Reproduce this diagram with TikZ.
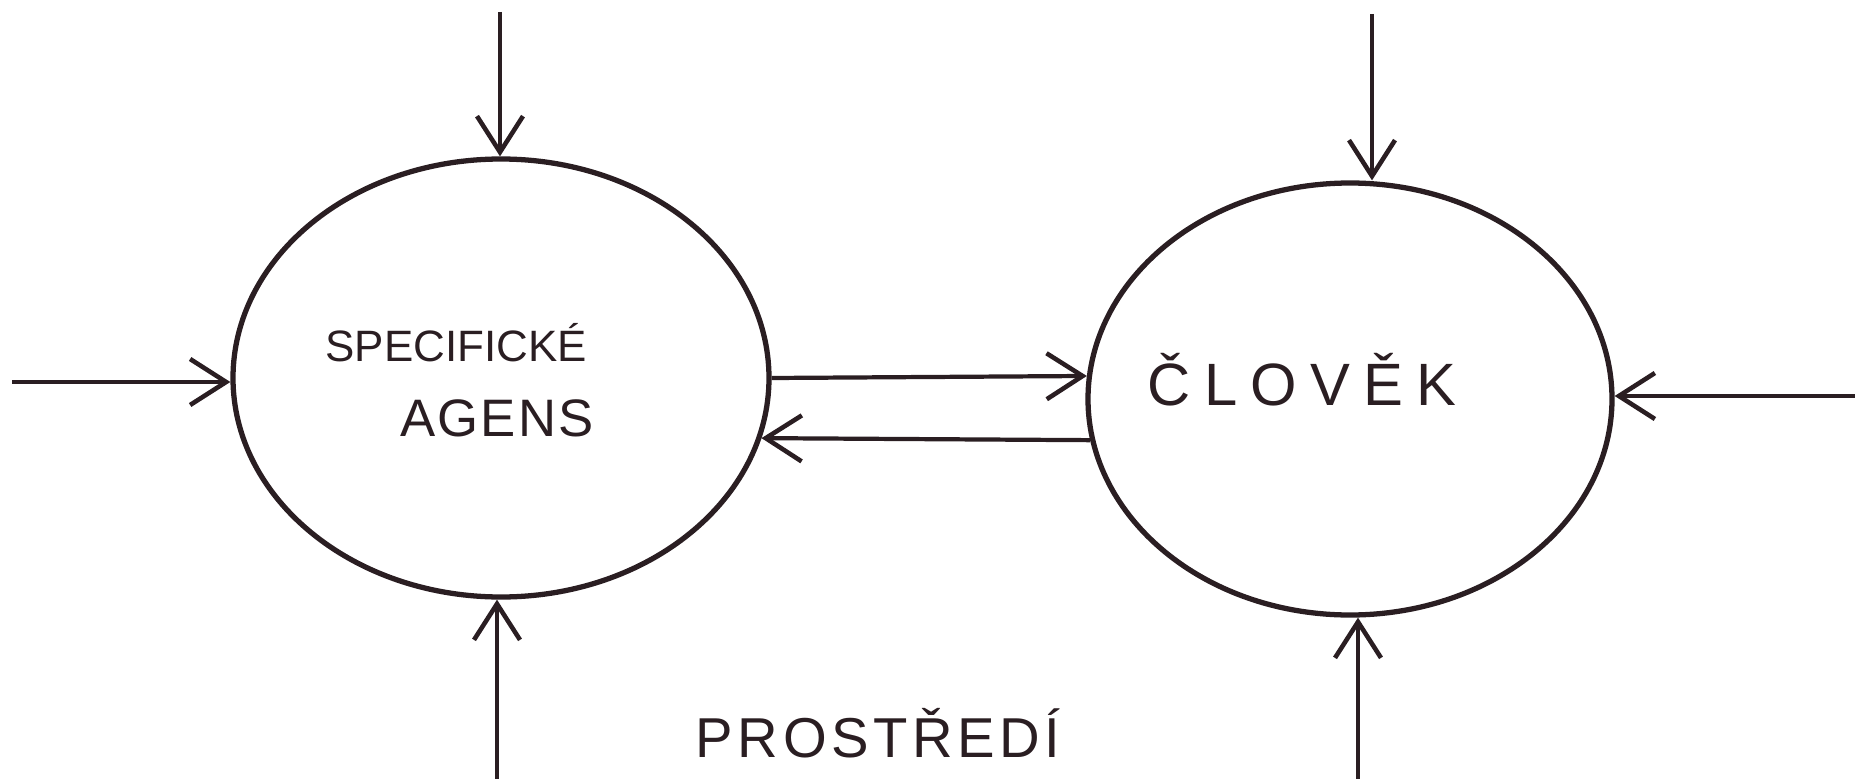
\documentclass[tikz,border=0pt]{standalone}
\usepackage{fontspec}
\setmainfont{Liberation Sans}
\usetikzlibrary{shapes.geometric,arrows.meta}
\definecolor{inkc}{RGB}{42,30,34}
\begin{document}
\begin{tikzpicture}[x=0.1mm,y=-0.1mm,
		ink/.style={color=inkc,line width=1.2pt},
		barb/.style={ink,-{Straight Barb[length=3.6mm,width=4.6mm,line width=1.3pt]}},
		blob/.style={ellipse,draw=inkc,line width=1.5pt,inner sep=0pt},
		hand/.style={text=inkc,font=\fontsize{13}{15}\selectfont}]
	\useasboundingbox (0,0) rectangle (1855,779);

	\node[blob,minimum width=53.6mm,minimum height=43.8mm] (agens) at (501,378) {};
	\node[blob,minimum width=52.4mm,minimum height=43.2mm] (clovek) at (1350,399) {};

	\node[hand,font=\fontsize{12.5}{14}\selectfont] (spec) at (456,343) {SPECIFICKÉ};
	\node[hand,font=\fontsize{15}{17}\selectfont\addfontfeature{LetterSpace=4}] (ag) at (497,418) {AGENS};
	\node[hand,font=\fontsize{17}{19}\selectfont\addfontfeature{LetterSpace=22}] (clo) at (1302,380) {ČLOVĚK};
	\node[hand,font=\fontsize{16}{18}\selectfont\addfontfeature{LetterSpace=8}] (env) at (878,733) {PROSTŘEDÍ};

	% arrows from the surroundings
	\coordinate (inL) at (12,382);
	\coordinate (topL) at (500,12);
	\coordinate (botL) at (497,779);
	\coordinate (topR) at (1372,14);
	\coordinate (inR) at (1855,396);
	\coordinate (botR) at (1358,779);
	\draw[barb] (inL) -- (inL -| agens.west);
	\draw[barb] (topL) -- (topL |- agens.north);
	\draw[barb] (botL) -- (botL |- agens.south);
	\draw[barb] (topR) -- (topR |- clovek.north);
	\draw[barb] (inR) -- (inR -| clovek.east);
	\draw[barb] (botR) -- (botR |- clovek.south);

	% exchange between the two
	\draw[barb] (agens.0) -- (clovek.175);
	\draw[barb] (clovek.-171) -- (agens.-13);
\end{tikzpicture}
\end{document}
